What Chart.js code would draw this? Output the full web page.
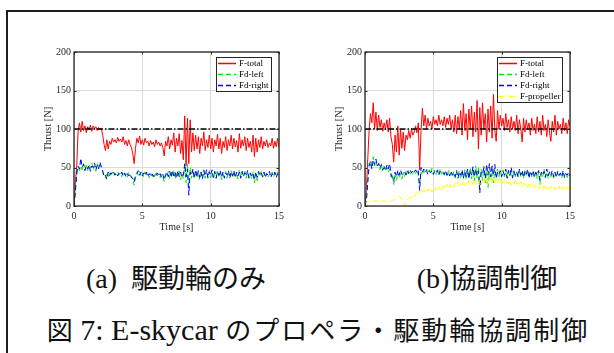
<!DOCTYPE html>
<html lang="ja">
<head>
<meta charset="utf-8">
<title>E-skycar thrust</title>
<script src="https://cdn.jsdelivr.net/npm/chart.js@4.4.1/dist/chart.umd.min.js"></script>
<style>
  html, body { margin: 0; padding: 0; background: #fff; }
  body { width: 614px; height: 353px; position: relative; overflow: hidden; }
  .frame { position: absolute; left: 6px; top: 10px; width: 700px; height: 400px; border: 2px solid #1e1e1e; box-sizing: border-box; }
  .plot { position: absolute; top: 40px; width: 252px; height: 193px; }
  #plotA { left: 36px; }
  #plotB { left: 327px; }
  .cap { position: absolute; white-space: pre; color: #111; line-height: 1; transform: translateX(-50%); }
  .lat { font-family: "Liberation Serif", serif; }
  .cjk { font-family: "Noto Sans CJK JP", sans-serif; }
</style>
</head>
<body>
<div class="frame"></div>
<div class="plot" id="plotA"><canvas id="chartA"></canvas></div>
<div class="plot" id="plotB"><canvas id="chartB"></canvas></div>

<div class="cap" style="left:176px; top:263px;"><span class="lat" style="font-size:28px">(a)  </span><span class="cjk" style="font-size:27px">駆動輪のみ</span></div>
<div class="cap" style="left:487px; top:263px;"><span class="lat" style="font-size:28px">(b)</span><span class="cjk" style="font-size:27px">協調制御</span></div>
<div class="cap" style="left:318px; top:315px;"><span class="cjk" style="font-size:26px">図</span><span class="lat" style="font-size:30px"> 7: E-skycar </span><span class="cjk" style="font-size:26px; letter-spacing:2px">のプロペラ・駆動輪協調制御</span></div>

<script>
// sampled every 0.1 s, 0 .. 15 s
const sampleTimes = Array.from({ length: 151 }, (_, i) => +(i * 0.1).toFixed(1));
const xTicks = [0, 5, 10, 15];
const yTicks = [0, 50, 100, 150, 200];
const targetThrust = 100;

// (a) drive wheels only
const totalA = [
  0, 30, 52, 97, 108, 96, 110, 98, 104, 95,
  103, 99, 105, 97, 104, 100, 103, 98, 102, 100,
  101, 92, 80, 72, 86, 74, 84, 80, 88, 83,
  86, 82, 89, 84, 87, 83, 90, 80, 85, 78,
  86, 80, 76, 68, 55, 75, 88, 82, 91, 80,
  86, 79, 88, 82, 84, 78, 85, 80, 83, 77,
  86, 80, 83, 78, 82, 76, 65, 84, 78, 90,
  74, 86, 79, 95, 70, 88, 78, 94, 68, 85,
  60, 117, 52, 114, 55, 112, 70, 95, 72, 92,
  74, 90, 68, 88, 78, 96, 72, 86, 76, 92,
  74, 88, 70, 86, 78, 93, 74, 88, 68, 84,
  76, 90, 72, 86, 78, 92, 74, 88, 77, 85,
  70, 94, 75, 86, 78, 90, 72, 88, 76, 84,
  70, 92, 64, 88, 70, 86, 76, 90, 74, 84,
  78, 86, 76, 82, 78, 88, 75, 84, 77, 88,
  76
];
const leftA = [
  0, 22, 40, 50, 46, 52, 47, 55, 48, 53,
  46, 54, 49, 56, 47, 52, 45, 55, 49, 54,
  50, 46, 40, 36, 42, 38, 43, 40, 44, 39,
  43, 40, 44, 41, 43, 38, 44, 40, 42, 37,
  44, 40, 38, 34, 27, 37, 44, 40, 45, 39,
  43, 38, 44, 40, 42, 37, 43, 39, 42, 38,
  44, 39, 42, 37, 41, 38, 32, 42, 38, 45,
  36, 44, 38, 47, 35, 44, 39, 46, 34, 42,
  36, 52, 30, 55, 25, 50, 36, 46, 37, 45,
  36, 44, 34, 45, 38, 47, 36, 43, 38, 46,
  37, 44, 35, 43, 39, 47, 37, 44, 34, 42,
  38, 45, 36, 43, 39, 46, 37, 44, 38, 43,
  35, 47, 37, 43, 39, 45, 36, 44, 38, 42,
  35, 45, 30, 43, 33, 43, 38, 45, 37, 42,
  39, 43, 38, 41, 39, 44, 37, 42, 38, 44,
  38
];
const rightA = [
  0, 18, 44, 52, 48, 62, 50, 54, 46, 52,
  48, 53, 45, 52, 50, 56, 47, 53, 48, 57,
  51, 45, 38, 40, 35, 44, 39, 43, 41, 44,
  40, 43, 39, 42, 40, 44, 39, 43, 38, 42,
  39, 42, 37, 36, 31, 40, 42, 46, 40, 44,
  39, 43, 40, 44, 38, 42, 40, 43, 38, 42,
  40, 43, 39, 42, 37, 41, 34, 40, 44, 38,
  45, 37, 46, 39, 44, 36, 46, 38, 44, 37,
  40, 55, 38, 48, 14, 44, 40, 48, 36, 47,
  38, 46, 37, 44, 35, 46, 39, 47, 36, 44,
  40, 47, 37, 45, 36, 44, 40, 46, 37, 44,
  36, 43, 40, 46, 36, 44, 39, 46, 37, 44,
  39, 44, 36, 45, 38, 43, 39, 46, 36, 43,
  39, 42, 34, 44, 37, 45, 40, 43, 38, 44,
  37, 42, 40, 45, 37, 42, 39, 44, 37, 42,
  39
];

// (b) coordinated control
const totalB = [
  0, 20, 60, 98, 120, 108, 134, 100, 122, 98,
  118, 102, 112, 97, 108, 100, 112, 96, 114, 90,
  80, 57, 92, 70, 104, 66, 100, 75, 96, 72,
  92, 86, 98, 88, 100, 92, 96, 104, 95, 108,
  47, 98, 127, 104, 118, 100, 114, 104, 110, 100,
  116, 106, 112, 104, 118, 106, 112, 104, 116, 102,
  114, 106, 118, 100, 112, 96, 118, 94, 116, 100,
  124, 92, 133, 98, 120, 86, 126, 100, 130, 90,
  122, 96, 137, 74, 128, 92, 134, 100, 120, 83,
  126, 96, 130, 88, 145, 98, 84, 124, 100, 118,
  104, 114, 98, 120, 102, 112, 96, 116, 100, 110,
  98, 118, 94, 112, 100, 83, 114, 96, 112, 100,
  108, 92, 114, 98, 106, 94, 116, 96, 110, 92,
  118, 98, 106, 90, 112, 96, 84, 110, 96, 118,
  92, 110, 100, 106, 94, 114, 98, 108, 94, 112,
  104
];
const leftB = [
  0, 10, 35, 55, 50, 58, 64, 52, 58, 50,
  56, 47, 53, 46, 52, 45, 50, 44, 48, 38,
  42, 28, 40, 33, 44, 36, 42, 35, 44, 38,
  45, 40, 46, 41, 44, 40, 45, 42, 46, 40,
  28, 44, 40, 46, 42, 48, 43, 47, 42, 49,
  43, 47, 41, 46, 42, 48, 41, 46, 40, 45,
  39, 46, 40, 44, 38, 45, 36, 44, 38, 46,
  35, 45, 37, 47, 34, 46, 38, 50, 35, 48,
  32, 52, 36, 50, 28, 48, 33, 52, 30, 46,
  24, 44, 34, 50, 30, 46, 36, 48, 38, 45,
  39, 47, 38, 45, 37, 46, 39, 44, 36, 46,
  38, 45, 37, 47, 38, 44, 36, 46, 39, 44,
  37, 46, 38, 43, 36, 45, 35, 44, 28, 43,
  38, 48, 37, 44, 36, 45, 38, 43, 36, 44,
  38, 43, 37, 42, 36, 44, 39, 43, 37, 42,
  41
];
const rightB = [
  0, 6, 30, 52, 58, 48, 60, 54, 61, 52,
  55, 49, 54, 47, 50, 46, 53, 48, 55, 42,
  36, 32, 44, 38, 46, 40, 47, 41, 42, 44,
  40, 46, 42, 47, 43, 46, 44, 47, 43, 46,
  20, 50, 44, 48, 44, 46, 41, 45, 43, 46,
  41, 45, 43, 47, 40, 45, 43, 44, 41, 46,
  40, 44, 39, 45, 40, 43, 38, 46, 36, 44,
  40, 47, 36, 45, 38, 48, 35, 46, 40, 51,
  38, 48, 40, 46, 17, 44, 42, 50, 36, 54,
  40, 55, 38, 52, 40, 54, 36, 44, 41, 46,
  38, 45, 40, 48, 36, 46, 40, 50, 37, 45,
  40, 44, 38, 48, 40, 46, 37, 45, 41, 48,
  36, 45, 40, 46, 38, 44, 40, 46, 34, 44,
  40, 45, 37, 48, 39, 44, 40, 46, 38, 44,
  37, 45, 40, 43, 38, 46, 37, 42, 40, 44,
  39
];
const propB = [
  5, 4, 6, 5, 6, 7, 6, 7, 6, 7,
  7, 6, 8, 7, 6, 7, 6, 7, 6, 6,
  7, 8, 9, 10, 12, 13, 11, 8, 3, 1,
  5, 9, 8, 12, 10, 14, 12, 16, 18, 15,
  20, 17, 22, 18, 21, 17, 22, 19, 23, 18,
  22, 19, 24, 20, 25, 21, 26, 22, 27, 23,
  28, 24, 29, 25, 28, 24, 30, 26, 31, 26,
  30, 27, 32, 26, 31, 28, 33, 27, 32, 28,
  34, 28, 33, 29, 35, 28, 34, 30, 36, 29,
  35, 30, 37, 31, 36, 29, 35, 30, 36, 30,
  34, 29, 35, 28, 33, 29, 34, 27, 32, 28,
  33, 27, 31, 26, 32, 25, 30, 26, 29, 24,
  30, 25, 28, 23, 28, 24, 27, 22, 27, 23,
  26, 21, 27, 22, 25, 21, 26, 22, 25, 21,
  24, 22, 26, 21, 25, 22, 26, 21, 24, 22,
  25
];

const axisColor = '#262626';
const gridColor = '#dadada';
const serif = '"Liberation Serif", "Times New Roman", serif';

const toPoints = arr => arr.map((v, i) => ({ x: sampleTimes[i], y: v }));

function series(label, values, color, dash, order) {
  return {
    label,
    data: toPoints(values),
    borderColor: color,
    borderWidth: 1,
    borderDash: dash,
    pointRadius: 0,
    tension: 0,
    order,
  };
}

function refLine() {
  return {
    label: '',
    inLegend: false,
    data: [{ x: xTicks[0], y: targetThrust }, { x: xTicks[xTicks.length - 1], y: targetThrust }],
    borderColor: '#000',
    borderWidth: 1.3,
    borderDash: [6, 2, 1.5, 2],
    pointRadius: 0,
    order: 0,
  };
}

// box, inward ticks and the in-plot legend, MATLAB style
const matlabFrame = {
  id: 'matlabFrame',
  afterDraw(chart) {
    const { ctx, chartArea: a, scales: { x, y } } = chart;
    ctx.save();
    ctx.strokeStyle = axisColor;
    ctx.lineWidth = 1.3;
    ctx.setLineDash([]);
    ctx.strokeRect(a.left, a.top, a.right - a.left, a.bottom - a.top);

    const tl = 2.5;
    ctx.lineWidth = 1;
    ctx.beginPath();
    x.ticks.forEach(t => {
      const px = Math.round(x.getPixelForValue(t.value)) + 0.5;
      ctx.moveTo(px, a.bottom); ctx.lineTo(px, a.bottom - tl);
      ctx.moveTo(px, a.top); ctx.lineTo(px, a.top + tl);
    });
    y.ticks.forEach(t => {
      const py = Math.round(y.getPixelForValue(t.value)) + 0.5;
      ctx.moveTo(a.left, py); ctx.lineTo(a.left + tl, py);
      ctx.moveTo(a.right, py); ctx.lineTo(a.right - tl, py);
    });
    ctx.stroke();

    const entries = chart.data.datasets.filter(d => d.inLegend !== false);
    ctx.font = '9px ' + serif;
    const rowH = 11, pad = 2, sampleW = 18, gap = 3;
    const textW = Math.max(...entries.map(e => ctx.measureText(e.label).width));
    const boxW = Math.round(pad + sampleW + gap + textW + pad);
    const boxH = rowH * entries.length + 1;
    const bx = Math.round(a.right - 8 - boxW), by = Math.round(a.top + 5);
    ctx.fillStyle = '#fff';
    ctx.fillRect(bx, by, boxW, boxH);
    ctx.strokeStyle = axisColor;
    ctx.lineWidth = 1;
    ctx.strokeRect(bx + 0.5, by + 0.5, boxW, boxH);
    entries.forEach((e, i) => {
      const cy = by + 6.5 + i * rowH;
      ctx.strokeStyle = e.borderColor;
      ctx.lineWidth = 1.5;
      ctx.setLineDash(e.borderDash || []);
      ctx.beginPath();
      ctx.moveTo(bx + pad, cy);
      ctx.lineTo(bx + pad + sampleW, cy);
      ctx.stroke();
      ctx.setLineDash([]);
      ctx.fillStyle = '#000';
      ctx.textBaseline = 'middle';
      ctx.fillText(e.label, bx + pad + sampleW + gap, cy);
    });
    ctx.restore();
  },
};

function makeChart(canvasId, datasets) {
  const canvas = document.getElementById(canvasId);
  return new Chart(canvas, {
    type: 'line',
    data: { datasets },
    options: {
      responsive: true,
      maintainAspectRatio: false,
      animation: false,
      events: [],
      layout: { padding: { top: 12, right: 9, bottom: 0, left: 0 } },
      plugins: { legend: { display: false }, tooltip: { enabled: false } },
      scales: {
        x: {
          type: 'linear',
          min: xTicks[0],
          max: xTicks[xTicks.length - 1],
          afterBuildTicks: s => { s.ticks = xTicks.map(v => ({ value: v })); },
          afterFit: s => { s.height = 27; },
          grid: { color: gridColor, lineWidth: 1, drawTicks: false },
          border: { display: false },
          ticks: { color: axisColor, padding: 4, maxRotation: 0, font: { family: serif, size: 10 } },
          title: { display: true, text: 'Time [s]', color: axisColor, padding: { top: 0, bottom: 0 }, font: { family: serif, size: 10 } },
        },
        y: {
          min: yTicks[0],
          max: yTicks[yTicks.length - 1],
          afterBuildTicks: s => { s.ticks = yTicks.map(v => ({ value: v })); },
          afterFit: s => { s.width = 38; },
          grid: { color: gridColor, lineWidth: 1, drawTicks: false },
          border: { display: false },
          ticks: { color: axisColor, padding: 3, font: { family: serif, size: 10 } },
          title: { display: true, text: 'Thrust [N]', color: axisColor, padding: { top: 6, bottom: 0 }, font: { family: serif, size: 10.5 } },
        },
      },
    },
    plugins: [matlabFrame],
  });
}

makeChart('chartA', [
  series('F-total', totalA, '#ff0000', [], 3),
  series('Fd-left', leftA, '#00ee00', [5, 3], 2),
  series('Fd-right', rightA, '#0000ff', [5, 3], 1),
  refLine(),
]);

makeChart('chartB', [
  series('F-total', totalB, '#ff0000', [], 4),
  series('Fd-left', leftB, '#00ee00', [5, 3], 3),
  series('Fd-right', rightB, '#0000ff', [5, 3], 2),
  series('F-propeller', propB, '#ffff00', [5, 2, 1, 2], 1),
  refLine(),
]);
</script>
</body>
</html>
